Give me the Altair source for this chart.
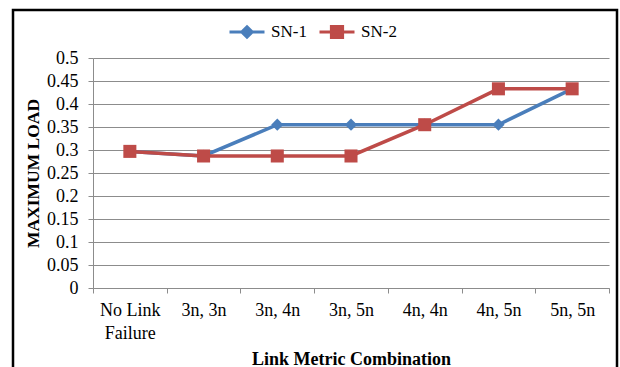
import altair as alt
import pandas as pd

categories = ["No Link Failure", "3n, 3n", "3n, 4n", "3n, 5n", "4n, 4n", "4n, 5n", "5n, 5n"]
sn1 = [0.297, 0.287, 0.355, 0.355, 0.355, 0.355, 0.433]
sn2 = [0.297, 0.287, 0.287, 0.287, 0.355, 0.433, 0.433]
series_names = ["SN-1", "SN-2"]
colors = ["#4A7EBB", "#BE4B48"]
y_ticks = [0, 0.05, 0.1, 0.15, 0.2, 0.25, 0.3, 0.35, 0.4, 0.45, 0.5]

rows = []
for name, vals in zip(series_names, [sn1, sn2]):
    for c, v in zip(categories, vals):
        rows.append({"cat": c, "val": v, "series": name})
df = pd.DataFrame(rows)

FONT = "Liberation Serif"
GRID = "#8c8c8c"

xenc = alt.X(
    "cat:N",
    sort=categories,
    bandPosition=0.5,
    scale=alt.Scale(type="band", domain=categories, paddingInner=0, paddingOuter=0),
    axis=alt.Axis(
        title="Link Metric Combination",
        labelAngle=0,
        tickBand="extent",
        grid=False,
        domainColor=GRID,
        tickColor=GRID,
        tickSize=5,
        labelPadding=8,
        labelFont=FONT,
        labelFontSize=18,
        labelColor="black",
        labelLineHeight=23,
        labelExpr="datum.label == 'No Link Failure' ? ['No Link', 'Failure'] : datum.label",
        titleFont=FONT,
        titleFontSize=18,
        titleFontWeight="bold",
        titleColor="black",
        titleY=76,
        titleBaseline="alphabetic",
    ),
)
yenc = alt.Y(
    "val:Q",
    scale=alt.Scale(domain=[0, 0.5], nice=False, zero=True),
    axis=alt.Axis(
        title="MAXIMUM LOAD",
        values=y_ticks,
        format="~g",
        grid=True,
        gridColor=GRID,
        gridWidth=1.2,
        domainColor=GRID,
        tickColor=GRID,
        tickSize=5,
        labelPadding=10,
        labelFont=FONT,
        labelFontSize=18,
        labelColor="black",
        titleFont=FONT,
        titleFontSize=17.5,
        titleFontWeight="bold",
        titleColor="black",
        titleX=-55,
        titleY=115,
        titleBaseline="alphabetic",
        titleAlign="center",
    ),
)

legend_paths = [
    "M-1,0H1M0,-0.3L0.3,0L0,0.3L-0.3,0Z",
    "M-1,0H1M-0.32,-0.32H0.32V0.32H-0.32Z",
]
legend_x = [135, 225]


def make_legend(i):
    return alt.Legend(
        title=None,
        orient="none",
        legendX=legend_x[i],
        legendY=-45,
        direction="horizontal",
        symbolSize=1225,
        symbolStrokeWidth=3,
        symbolType=legend_paths[i],
        symbolFillColor=colors[i],
        symbolStrokeColor=colors[i],
        labelFont=FONT,
        labelFontSize=17,
        labelColor="black",
        labelOffset=5,
        padding=0,
    )


sub1 = df[df["series"] == series_names[0]]
sub2 = df[df["series"] == series_names[1]]

line1 = alt.Chart(sub1).mark_line(strokeWidth=3.5).encode(
    x=xenc, y=yenc,
    color=alt.Color("series:N", scale=alt.Scale(domain=[series_names[0]], range=[colors[0]]),
                    legend=make_legend(0)),
)
pts1 = alt.Chart(sub1).mark_point(filled=True, shape="diamond", size=150, opacity=1,
                                  color=colors[0]).encode(x=xenc, y=yenc)
line2 = alt.Chart(sub2).mark_line(strokeWidth=3.5).encode(
    x=xenc, y=yenc,
    stroke=alt.Stroke("series:N", scale=alt.Scale(domain=[series_names[1]], range=[colors[1]]),
                      legend=make_legend(1)),
)
pts2 = alt.Chart(sub2).mark_point(filled=True, shape="square", size=170, opacity=1,
                                  color=colors[1]).encode(x=xenc, y=yenc)

border = alt.Chart(pd.DataFrame({"a": [0]})).mark_rect(
    filled=False, stroke="black", strokeWidth=2.5
).encode(
    x=alt.value(-80), x2=alt.value(524), y=alt.value(-48), y2=alt.value(330)
)

chart = alt.layer(line1, pts1, line2, pts2, border).properties(
    width=516,
    height=230,
    padding={"left": 93, "top": 58, "right": 11, "bottom": 79},
    autosize=alt.AutoSizeParams(type="none"),
    background="white",
).configure_view(stroke="transparent")

chart.save("out.html", embed_options={"renderer": "svg", "actions": False})
